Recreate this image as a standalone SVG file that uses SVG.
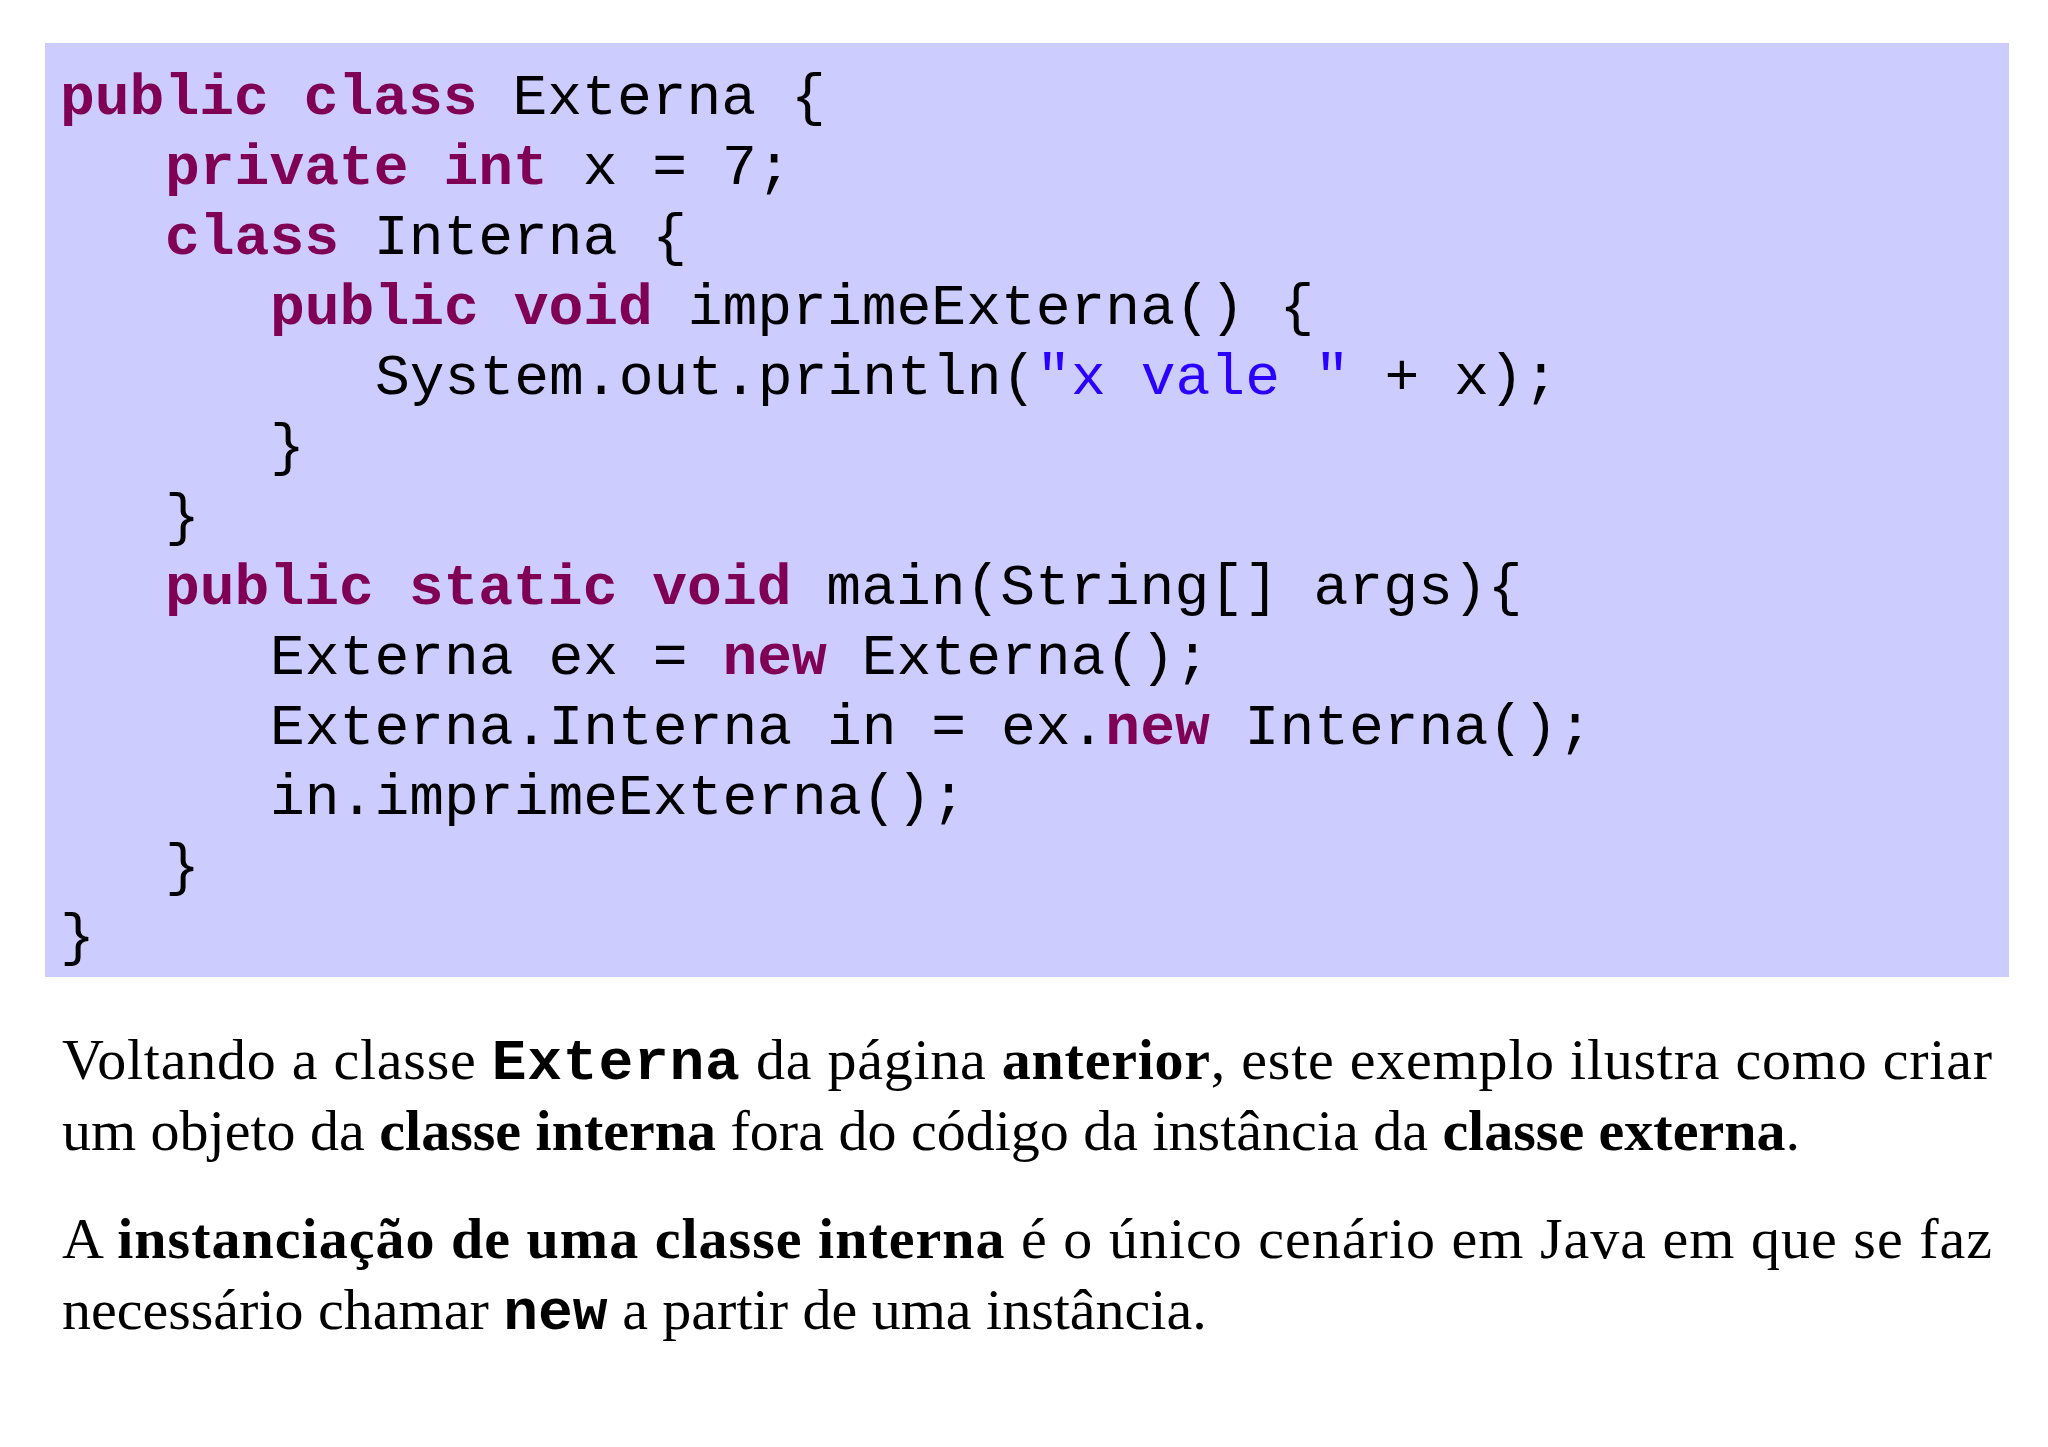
<svg xmlns="http://www.w3.org/2000/svg" width="2048" height="1447" viewBox="0 0 2048 1447">
<style>
.c{font-family:"Liberation Mono",monospace;font-size:58px;fill:#000;white-space:pre}
.k{fill:#7F0055;font-weight:bold}
.s{fill:#2A00FF}
.p{font-family:"Liberation Serif",serif;font-size:58px;fill:#000}
.b{font-weight:bold}
.m{font-family:"Liberation Mono",monospace;font-weight:bold}
</style>
<rect width="2048" height="1447" fill="#fff"/>
<g id="code">
<rect x="45" y="43" width="1964" height="934" fill="#CCCCFF"/>
<text class="c" x="60" y="114"><tspan class="k">public class</tspan> Externa {</text>
<text class="c" x="165" y="184"><tspan class="k">private int</tspan> x = 7;</text>
<text class="c" x="165" y="254"><tspan class="k">class</tspan> Interna {</text>
<text class="c" x="270" y="324"><tspan class="k">public void</tspan> imprimeExterna() {</text>
<text class="c" x="375" y="394">System.out.println(<tspan class="s">"x vale "</tspan> + x);</text>
<text class="c" x="270" y="464">}</text>
<text class="c" x="165" y="534">}</text>
<text class="c" x="165" y="604"><tspan class="k">public static void</tspan> main(String[] args){</text>
<text class="c" x="270" y="674">Externa ex = <tspan class="k">new</tspan> Externa();</text>
<text class="c" x="270" y="744">Externa.Interna in = ex.<tspan class="k">new</tspan> Interna();</text>
<text class="c" x="270" y="814">in.imprimeExterna();</text>
<text class="c" x="165" y="884">}</text>
<text class="c" x="60" y="954">}</text>
</g>
<g id="texto">
<text class="p" x="62" y="1079" textLength="1930" lengthAdjust="spacing">Voltando a classe <tspan class="m">Externa</tspan> da página <tspan class="b">anterior</tspan>, este exemplo ilustra como criar</text>
<text class="p" x="62" y="1150">um objeto da <tspan class="b">classe interna</tspan> fora do código da instância da <tspan class="b">classe externa</tspan>.</text>
<text class="p" x="62" y="1258" textLength="1930" lengthAdjust="spacing">A <tspan class="b">instanciação de uma classe interna</tspan> é o único cenário em Java em que se faz</text>
<text class="p" x="62" y="1329">necessário chamar <tspan class="m">new</tspan> a partir de uma instância.</text>
</g>
</svg>
